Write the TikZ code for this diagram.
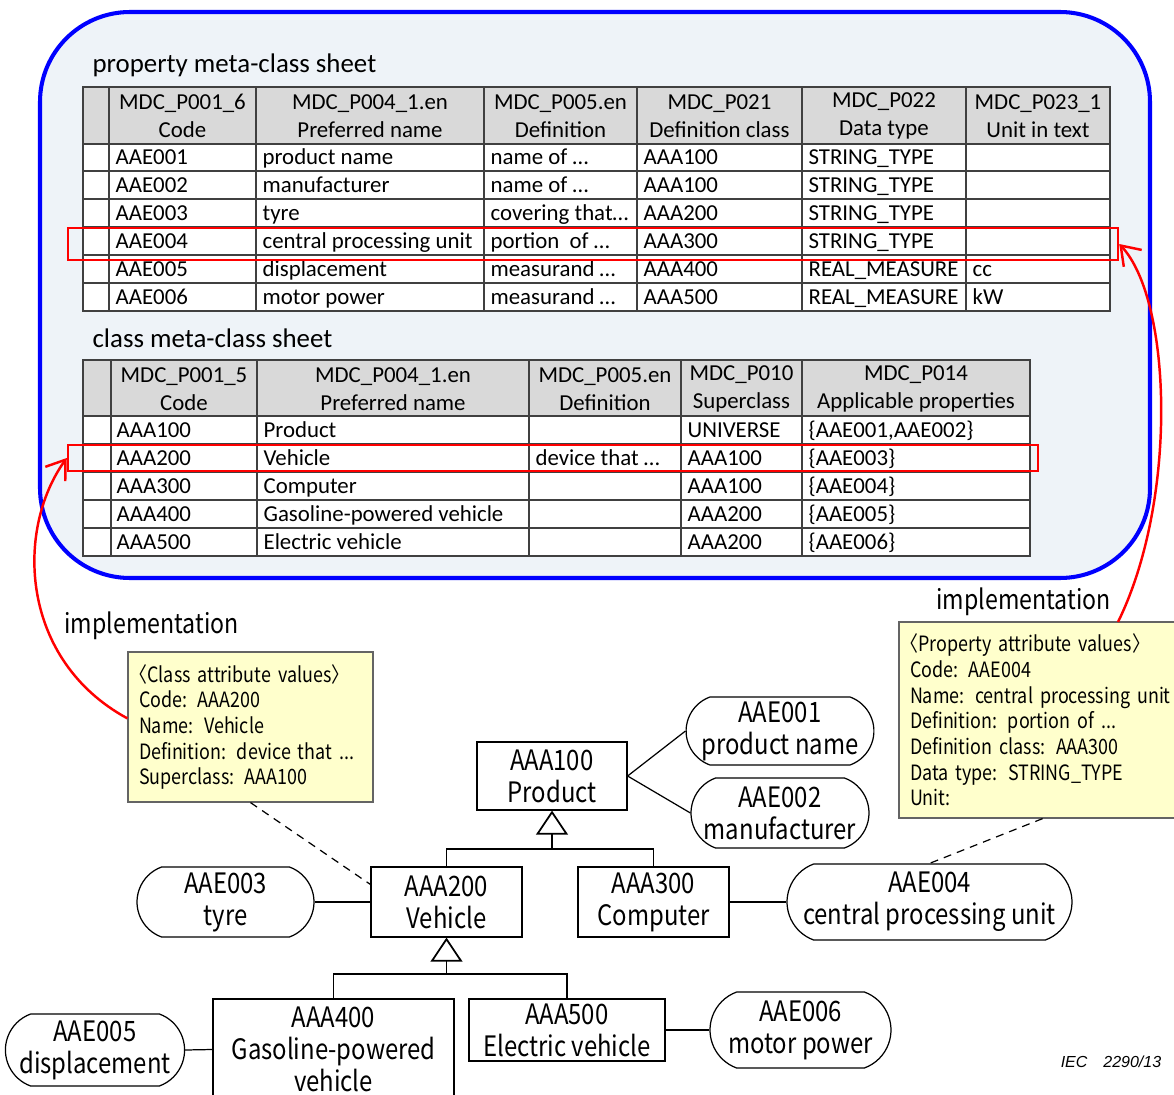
\documentclass[tikz,border=0pt]{standalone}
\usepackage{fontspec}
\setmainfont{Carlito}
\newfontfamily\gothic[FakeStretch=0.85]{Noto Sans CJK JP}
\newfontfamily\iecfont{Liberation Sans}
\usetikzlibrary{arrows.meta,fit,shapes.misc}
\definecolor{panelbg}{RGB}{238,243,248}
\definecolor{hdrgray}{RGB}{217,217,217}
\definecolor{gridgray}{RGB}{64,64,64}
\definecolor{noteyellow}{RGB}{255,255,204}
\definecolor{notegray}{RGB}{100,100,100}

\begin{document}
\begin{tikzpicture}[x=0.02cm, y=-0.02cm, line width=0.7pt,
    cell/.style={anchor=west, inner sep=0, text height=10pt, text depth=2pt, font=\fontsize{13}{15.9}\selectfont},
    hdr/.style={align=center, inner sep=0, font=\fontsize{13}{15.9}\selectfont},
    sheet/.style={anchor=base west, inner sep=0, font=\fontsize{15.3}{18}\selectfont},
    tabline/.style={draw=gridgray, line width=1.1pt},
    hilite/.style={draw=red, line width=1.4pt, inner sep=0},
    impl/.style={red, line width=1.4pt, -{Straight Barb[length=10pt, width=14pt]}},
    lbl/.style={inner sep=0, font=\gothic\fontsize{15.5}{18}\selectfont},
    cls/.style={draw, align=center, inner sep=0, font=\gothic\fontsize{16}{18.2}\selectfont},
    prop/.style={draw, rounded rectangle, rounded rectangle arc length=140, align=center, inner sep=0, font=\gothic\fontsize{16}{18.2}\selectfont},
    attrnote/.style={draw=notegray, fill=noteyellow, align=left, inner xsep=0.22cm, font=\gothic\fontsize{12}{14.6}\selectfont},
    gen/.style={-{Triangle[open, length=13.6pt, width=18pt, line width=1pt]}},
    dashlink/.style={dash pattern=on 4.5pt off 3.5pt}]
    \useasboundingbox (0,0) rectangle (1174,1095);
    \clip (0,0) rectangle (1174,1095);
    \fill[white] (0,0) rectangle (1174,1095);

    % metadata panel
    \draw[blue, line width=2.3pt, fill=panelbg, rounded corners=1.8cm] (40,12) rectangle (1150,578);

    % property meta-class sheet
    \node[sheet] (ptitle) at (92,73) {property meta-class sheet};
    \fill[hdrgray] (83,87) rectangle (1110,144);
    \fill[white] (83,144) rectangle (1110,311);
    \draw[tabline] (83,87) rectangle (1110,311);
    \draw[tabline] (109,87) -- (109,311) (256,87) -- (256,311) (484,87) -- (484,311) (637,87) -- (637,311) (802,87) -- (802,311) (966,87) -- (966,311);
    \draw[tabline] (83,144) -- (1110,144) (83,171) -- (1110,171) (83,199) -- (1110,199) (83,227) -- (1110,227) (83,255) -- (1110,255) (83,283) -- (1110,283);
    \node[hdr] (ph1) at (182.5,116) {MDC\_P001\_6\\Code};
    \node[hdr] (ph2) at (370,116) {MDC\_P004\_1.en\\Preferred name};
    \node[hdr] (ph3) at (560.5,116) {MDC\_P005.en\\Definition};
    \node[hdr] (ph4) at (719.5,116) {MDC\_P021\\Definition class};
    \node[hdr] (ph5) at (884,116) {MDC\_P022\\Data type};
    \node[hdr] (ph6) at (1038,116) {MDC\_P023\_1\\Unit in text};

    \node[cell] (p11) at (115,157.5) {AAE001};
    \node[cell] (p12) at (262,157.5) {product name};
    \node[cell] (p13) at (490,157.5) {name of …};
    \node[cell] (p14) at (643,157.5) {AAA100};
    \node[cell] (p15) at (808,157.5) {STRING\_TYPE};
    \node[cell] (p21) at (115,185) {AAE002};
    \node[cell] (p22) at (262,185) {manufacturer};
    \node[cell] (p23) at (490,185) {name of …};
    \node[cell] (p24) at (643,185) {AAA100};
    \node[cell] (p25) at (808,185) {STRING\_TYPE};
    \node[cell] (p31) at (115,213) {AAE003};
    \node[cell] (p32) at (262,213) {tyre};
    \node[cell] (p33) at (490,213) {covering that…};
    \node[cell] (p34) at (643,213) {AAA200};
    \node[cell] (p35) at (808,213) {STRING\_TYPE};
    \node[cell] (p41) at (115,241) {AAE004};
    \node[cell] (p42) at (262,241) {central processing unit};
    \node[cell] (p43) at (490,241) {portion\ \ of …};
    \node[cell] (p44) at (643,241) {AAA300};
    \node[cell] (p45) at (808,241) {STRING\_TYPE};
    \node[cell] (p51) at (115,269) {AAE005};
    \node[cell] (p52) at (262,269) {displacement};
    \node[cell] (p53) at (490,269) {measurand …};
    \node[cell] (p54) at (643,269) {AAA400};
    \node[cell] (p55) at (808,269) {REAL\_MEASURE};
    \node[cell] (p56) at (972,269) {cc};
    \node[cell] (p61) at (115,297) {AAE006};
    \node[cell] (p62) at (262,297) {motor power};
    \node[cell] (p63) at (490,297) {measurand …};
    \node[cell] (p64) at (643,297) {AAA500};
    \node[cell] (p65) at (808,297) {REAL\_MEASURE};
    \node[cell] (p66) at (972,297) {kW};

    % class meta-class sheet
    \node[sheet] (ktitle) at (92,347) {class meta-class sheet};
    \fill[hdrgray] (83,360) rectangle (1030,416);
    \fill[white] (83,416) rectangle (1030,556);
    \draw[tabline] (83,360) rectangle (1030,556);
    \draw[tabline] (111,360) -- (111,556) (257,360) -- (257,556) (529,360) -- (529,556) (681,360) -- (681,556) (802,360) -- (802,556);
    \draw[tabline] (83,416) -- (1030,416) (83,444) -- (1030,444) (83,472) -- (1030,472) (83,500) -- (1030,500) (83,528) -- (1030,528);
    \node[hdr] (kh1) at (184,389) {MDC\_P001\_5\\Code};
    \node[hdr] (kh2) at (393,389) {MDC\_P004\_1.en\\Preferred name};
    \node[hdr] (kh3) at (605,389) {MDC\_P005.en\\Definition};
    \node[hdr] (kh4) at (741.5,389) {MDC\_P010\\Superclass};
    \node[hdr] (kh5) at (916,389) {MDC\_P014\\Applicable properties};

    \node[cell] (k11) at (116,430) {AAA100};
    \node[cell] (k12) at (263,430) {Product};
    \node[cell] (k14) at (687,430) {UNIVERSE};
    \node[cell] (k15) at (808,430) {\{AAE001,AAE002\}};
    \node[cell] (k21) at (116,458) {AAA200};
    \node[cell] (k22) at (263,458) {Vehicle};
    \node[cell] (k23) at (535,458) {device that …};
    \node[cell] (k24) at (687,458) {AAA100};
    \node[cell] (k25) at (808,458) {\{AAE003\}};
    \node[cell] (k31) at (116,486) {AAA300};
    \node[cell] (k32) at (263,486) {Computer};
    \node[cell] (k34) at (687,486) {AAA100};
    \node[cell] (k35) at (808,486) {\{AAE004\}};
    \node[cell] (k41) at (116,514) {AAA400};
    \node[cell] (k42) at (263,514) {Gasoline-powered vehicle};
    \node[cell] (k44) at (687,514) {AAA200};
    \node[cell] (k45) at (808,514) {\{AAE005\}};
    \node[cell] (k51) at (116,542) {AAA500};
    \node[cell] (k52) at (263,542) {Electric vehicle};
    \node[cell] (k54) at (687,542) {AAA200};
    \node[cell] (k55) at (808,542) {\{AAE006\}};

    % highlighted rows
    \node[hilite, fit={(68,228) (1118,260)}] (prow) {};
    \node[hilite, fit={(68,445) (1038,471)}] (krow) {};

    % class diagram
    \node[cls, minimum width=3cm, minimum height=1.36cm] (AAA100) at (552,776) {AAA100\\Product};
    \node[cls, minimum width=3.02cm, minimum height=1.4cm] (AAA200) at (446.5,902) {AAA200\\Vehicle};
    \node[cls, minimum width=3.02cm, minimum height=1.4cm] (AAA300) at (653.5,902) {AAA300\\Computer};
    \node[cls, minimum width=4.82cm, minimum height=2.02cm] (AAA400) at (333.5,1049.5) {AAA400\\Gasoline-powered\\vehicle};
    \node[cls, minimum width=3.92cm, minimum height=1.24cm] (AAA500) at (567,1030) {AAA500\\Electric vehicle};

    \node[prop, minimum width=3.56cm, minimum height=1.36cm] (AAE001) at (780,731) {AAE001\\product name};
    \node[prop, minimum width=3.56cm, minimum height=1.4cm] (AAE002) at (780,813) {AAE002\\manufacturer};
    \node[prop, minimum width=3.54cm, minimum height=1.4cm] (AAE003) at (225.5,902) {AAE003\\tyre};
    \node[prop, minimum width=5.7cm, minimum height=1.52cm] (AAE004) at (929.5,902) {AAE004\\central processing unit};
    \node[prop, minimum width=3.48cm, minimum height=1.44cm] (AAE005) at (95,1050) {AAE005\\displacement};
    \node[prop, minimum width=3.62cm, minimum height=1.52cm] (AAE006) at (800.5,1030) {AAE006\\motor power};

    \coordinate (bus1) at (552,849);
    \coordinate (bus2) at (446.5,974);
    \draw (AAA200.north) |- (bus1) -| (AAA300.north);
    \draw[gen] (bus1) -- (AAA100.south);
    \draw (AAA400.north) |- (bus2) -| (AAA500.north);
    \draw[gen] (bus2) -- (AAA200.south);

    \draw (AAA100.east) -- (AAE001.west);
    \draw (AAA100.east) -- (AAE002.west);
    \draw (AAE003.east) -- (AAA200.west);
    \draw (AAA300.east) -- (AAE004.west);
    \draw (AAE005.east) -- (AAA400.west);
    \draw (AAA500.east) -- (AAE006.west);

    % attribute notes
    \node[attrnote, minimum width=4.9cm, minimum height=3cm, text width=4.46cm] (classnote) at (250.5,727) {\kern-0.45em〈Class attribute values〉\\Code: AAA200\\Name: Vehicle\\Definition: device that ...\\Superclass: AAA100};
    \node[attrnote, minimum width=6.44cm, minimum height=3.92cm, text width=6cm] (propnote) at (1060,720) {\kern-0.45em〈Property attribute values〉\\Code: AAE004\\Name: central processing unit\\Definition: portion of ...\\Definition class: AAA300\\Data type: STRING\_TYPE\\Unit:};
    \draw[dashlink] (classnote.south) -- (AAA200.167);
    \draw[dashlink] (propnote.260) -- (AAE004.north);

    \node[lbl] (implL) at (151.5,626) {implementation};
    \node[lbl] (implR) at (1023.5,602) {implementation};
    \coordinate (ptop) at (1118,622);
    \draw[impl] (ptop) .. controls (1178,500) and (1172,300) .. (prow.east);
    \draw[impl] (classnote.176) .. controls (20,660) and (15,530) .. (krow.west);

    \node[inner sep=0, font=\iecfont\itshape\fontsize{9.1}{11}\selectfont] (iec) at (1111,1062) {IEC\quad 2290/13};
\end{tikzpicture}
\end{document}
